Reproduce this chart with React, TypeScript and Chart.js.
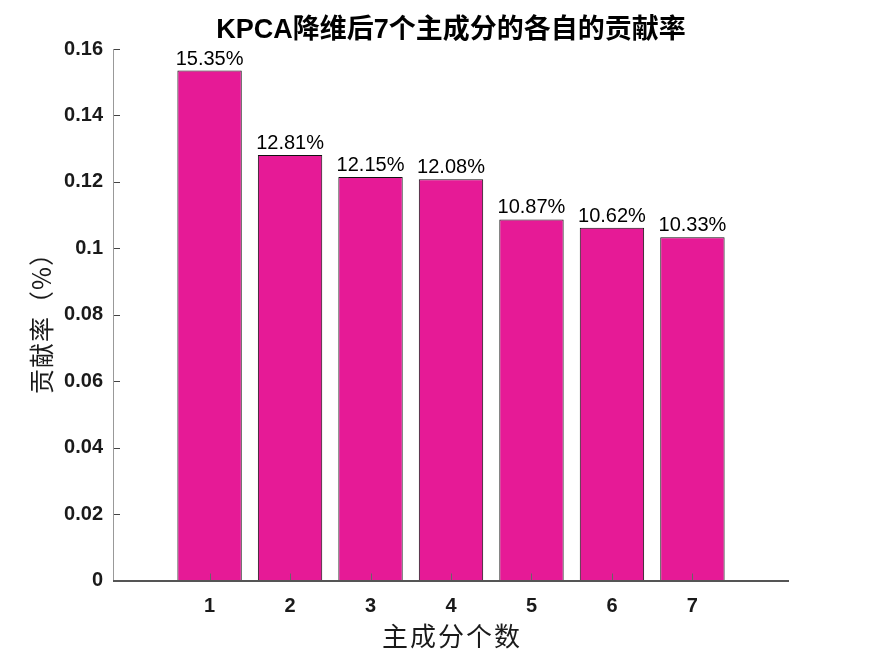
import React, { useEffect, useRef } from "react";
import { Chart, registerables } from "chart.js";

Chart.register(...registerables);

const categories = ["1", "2", "3", "4", "5", "6", "7"];
const contributions = [0.1535, 0.1281, 0.1215, 0.1208, 0.1087, 0.1062, 0.1033];
const yTicks = [0, 0.02, 0.04, 0.06, 0.08, 0.1, 0.12, 0.14, 0.16];

const titleText = "KPCA降维后7个主成分的各自的贡献率";
const xTitle = "主成分个数";
const yTitle = "贡献率（%）";

const LATIN = '"Liberation Sans", Arial, sans-serif';
const MIXED = '"Liberation Sans", "Noto Sans CJK SC", sans-serif';
const CJK = '"Noto Sans CJK SC", sans-serif';

const decorPlugin = {
  id: "decor",
  afterDatasetsDraw(chart: any) {
    const ctx = chart.ctx;
    const { left, right, top, bottom } = chart.chartArea;
    const xs = chart.scales.x;
    const ys = chart.scales.y;
    ctx.save();
    // x tick marks (inside, pointing up)
    ctx.strokeStyle = "#666666";
    ctx.lineWidth = 1;
    categories.forEach((c) => {
      const px = Math.round(xs.getPixelForValue(Number(c))) + 0.5;
      ctx.beginPath();
      ctx.moveTo(px, bottom);
      ctx.lineTo(px, bottom - 7);
      ctx.stroke();
    });
    // y tick marks (inside, pointing right)
    ctx.strokeStyle = "#444444";
    yTicks.forEach((t) => {
      const py = Math.round(ys.getPixelForValue(t)) + 0.5;
      ctx.beginPath();
      ctx.moveTo(left, py);
      ctx.lineTo(left + 7, py);
      ctx.stroke();
    });
    // axes lines
    ctx.strokeStyle = "#999999";
    ctx.beginPath();
    ctx.moveTo(Math.round(left) + 0.5, top);
    ctx.lineTo(Math.round(left) + 0.5, bottom);
    ctx.stroke();
    ctx.strokeStyle = "#555555";
    ctx.lineWidth = 2;
    ctx.beginPath();
    ctx.moveTo(left, Math.round(bottom));
    ctx.lineTo(right, Math.round(bottom));
    ctx.stroke();

    // bar value labels
    ctx.fillStyle = "#000000";
    ctx.font = `20px ${LATIN}`;
    ctx.textAlign = "center";
    ctx.textBaseline = "alphabetic";
    const meta = chart.getDatasetMeta(0);
    meta.data.forEach((bar: any, i: number) => {
      ctx.fillText((contributions[i] * 100).toFixed(2) + "%", bar.x, bar.y - 6);
    });

    // title
    ctx.fillStyle = "#000000";
    ctx.font = `bold 27px ${MIXED}`;
    ctx.textBaseline = "middle";
    ctx.fillText(titleText, (left + right) / 2, 31);

    // x title
    ctx.fillStyle = "#1a1a1a";
    ctx.font = `26px ${CJK}`;
    (ctx as any).letterSpacing = "2px";
    ctx.fillText(xTitle, (left + right) / 2 + 1, 636);

    // y title
    ctx.translate(41, 317);
    ctx.rotate(-Math.PI / 2);
    ctx.font = `25px ${CJK}`;
    (ctx as any).letterSpacing = "1px";
    ctx.fillText(yTitle, 0, 0);
    ctx.restore();
  },
};

export default function App() {
  const ref = useRef<HTMLCanvasElement | null>(null);
  useEffect(() => {
    document.body.style.margin = "0";
    const canvas = ref.current!;
    const chart = new Chart(canvas, {
      type: "bar",
      data: {
        datasets: [
          {
            data: categories.map((c, i) => ({ x: Number(c), y: contributions[i] })),
            backgroundColor: "#E61A96",
            borderColor: "#111111",
            borderWidth: 1,
            barPercentage: 0.8,
            categoryPercentage: 1,
          },
        ],
      },
      options: {
        responsive: false,
        animation: false,
        devicePixelRatio: 1,
        layout: { padding: { left: 0, right: 83, top: 49, bottom: 0 } },
        plugins: {
          legend: { display: false },
          tooltip: { enabled: false },
          title: { display: false },
        },
        scales: {
          x: {
            type: "linear",
            min: -0.2,
            max: 8.2,
            offset: false,
            grid: { display: false },
            border: { display: false },
            afterBuildTicks: (scale: any) => {
              scale.ticks = categories.map((c) => ({ value: Number(c) }));
            },
            afterFit: (scale: any) => {
              scale.height = 73.5;
            },
            ticks: {
              autoSkip: false,
              maxRotation: 0,
              padding: 6,
              color: "#1a1a1a",
              font: { family: LATIN, size: 20, weight: "bold" },
              callback: (v: any) => String(v),
            },
          },
          y: {
            min: 0,
            max: 0.16,
            grid: { display: false },
            border: { display: false },
            afterBuildTicks: (scale: any) => {
              scale.ticks = yTicks.map((t) => ({ value: t }));
            },
            afterFit: (scale: any) => {
              scale.width = 113;
            },
            ticks: {
              padding: 2,
              color: "#1a1a1a",
              font: { family: LATIN, size: 20, weight: "bold" },
              callback: (v: any) => String(Number(Number(v).toFixed(2))),
            },
          },
        },
      },
      plugins: [decorPlugin],
    });
    return () => chart.destroy();
  }, []);
  return (
    <div style={{ position: "fixed", left: 0, top: 0, width: 872, height: 654, background: "#fff" }}>
      <canvas ref={ref} width={872} height={654} style={{ width: 872, height: 654, display: "block" }} />
    </div>
  );
}
